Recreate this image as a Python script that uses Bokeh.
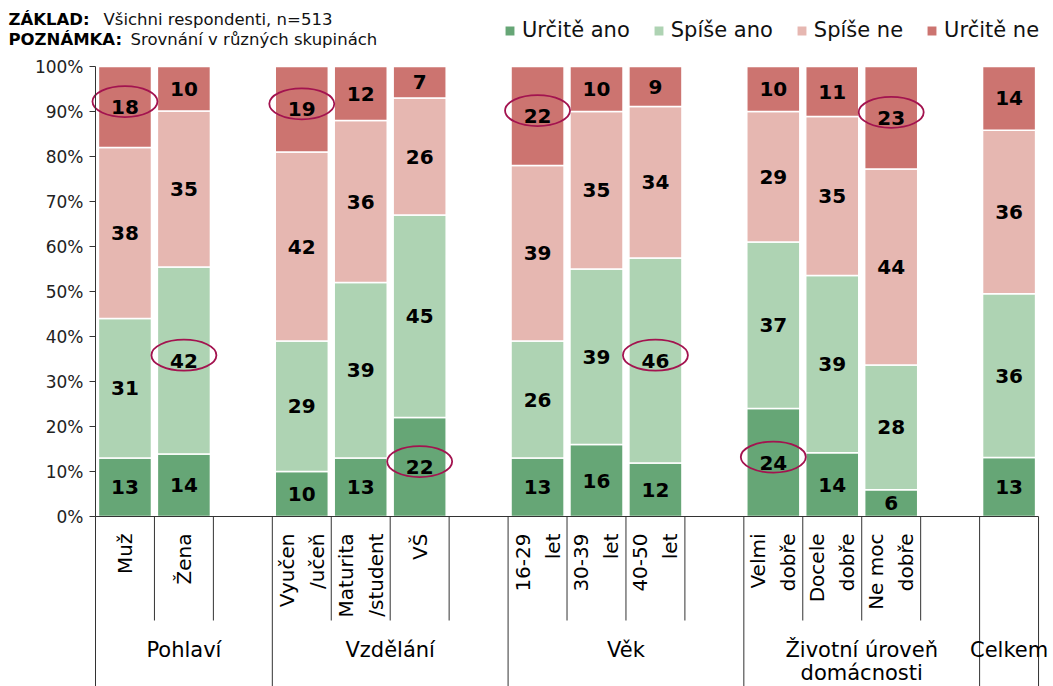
import math
from bokeh.plotting import figure
from bokeh.models import (Range1d, FixedTicker, PrintfTickFormatter, Legend,
                          LegendItem, ColumnDataSource)
from bokeh.core.properties import value
from bokeh.embed import file_html
from bokeh.resources import INLINE

# ---------------- data ----------------
groups = ["Pohlaví", "Vzdělání", "Věk", "Životní úroveň\ndomácnosti", "Celkem"]
group_members = [
    ["Muž", "Žena"],
    ["Vyučen\n/učeň", "Maturita\n/student", "VŠ"],
    ["16-29\nlet", "30-39\nlet", "40-50\nlet"],
    ["Velmi\ndobře", "Docele\ndobře", "Ne moc\ndobře"],
    [""],
]
series = ["Určitě ano", "Spíše ano", "Spíše ne", "Určitě ne"]
urcite_ano = [13, 14, 10, 13, 22, 13, 16, 12, 24, 14, 6, 13]
spise_ano = [31, 42, 29, 39, 45, 26, 39, 46, 37, 39, 28, 36]
spise_ne = [38, 35, 42, 36, 26, 39, 35, 34, 29, 35, 44, 36]
urcite_ne = [18, 10, 19, 12, 7, 22, 10, 9, 10, 11, 23, 14]
# highlighted cells: (bar index, series index)
highlights = [(0, 3), (1, 1), (2, 3), (4, 0), (5, 3), (7, 1), (8, 0), (10, 3)]
yticks = list(range(0, 101, 10))
header_bold = ["ZÁKLAD:", "POZNÁMKA:"]
header_text = ["Všichni respondenti, n=513", "Srovnání v různých skupinách"]

# ---------------- styles ----------------
colors = ["#66A676", "#AED3B3", "#E6B7B1", "#CC7470"]
FONT = value("DejaVu Sans")
AXIS_COL = "#333333"

values = [urcite_ano, spise_ano, spise_ne, urcite_ne]

# slot layout: each group followed by an empty slot (except the last)
xs, cat_labels, short_b, long_b, group_centers = [], [], [], [0], []
slot = 0
for gi, members in enumerate(group_members):
    start = slot
    for m in members:
        xs.append(slot + 0.5)
        cat_labels.append(m)
        slot += 1
    if gi < len(group_members) - 1:
        slot += 1
    end = slot
    short_b.extend(range(start + 1, end))
    long_b.append(end)
    group_centers.append((start + end) / 2)
n_slots = slot

# normalise to 100 %
n_bars = len(xs)
totals = [sum(v[i] for v in values) for i in range(n_bars)]
bottoms, tops = [], []
cum = [0.0] * n_bars
for v in values:
    b = list(cum)
    cum = [cum[i] + v[i] * 100.0 / totals[i] for i in range(n_bars)]
    bottoms.append(b)
    tops.append(list(cum))

# ---------------- figure ----------------
W, H = 1053, 686
X0, Y0 = 95, 516          # pixel position of (0, 0%)
px_per_slot = 58.94
px_per_pct = 4.5
x_start = -X0 / px_per_slot
x_end = (W - X0) / px_per_slot
y_top = Y0 / px_per_pct
y_bot = -(H - Y0) / px_per_pct

def dy(px):  # pixels below the 0 % line -> data units
    return -px / px_per_pct

p = figure(width=W, height=H, output_backend="svg", toolbar_location=None,
           x_range=Range1d(x_start, x_end), y_range=Range1d(y_bot, y_top),
           x_axis_location=None, y_axis_location="left",
           min_border_left=0, min_border_right=0, min_border_top=0,
           min_border_bottom=0)
p.outline_line_color = None
p.xgrid.visible = False
p.ygrid.visible = False
p.background_fill_color = "white"
p.border_fill_color = "white"

ax = p.yaxis[0]
ax.fixed_location = 0
ax.ticker = FixedTicker(ticks=yticks)
ax.bounds = (yticks[0], yticks[-1])
ax.formatter = PrintfTickFormatter(format="%d%%")
ax.major_tick_out = 6
ax.major_tick_in = 0
ax.minor_tick_line_color = None
ax.axis_line_color = AXIS_COL
ax.major_tick_line_color = AXIS_COL
ax.major_label_text_font = "DejaVu Sans"
ax.major_label_text_font_size = "17px"
ax.major_label_text_color = "#222222"
ax.major_label_standoff = 6

# bars
renderers = []
for si, name in enumerate(series):
    mids = [(bottoms[si][i] + tops[si][i]) / 2 for i in range(n_bars)]
    src = ColumnDataSource(dict(x=xs, bottom=bottoms[si], top=tops[si], mid=mids,
                                lab=[str(v) for v in values[si]]))
    r = p.vbar(x="x", bottom="bottom", top="top", width=0.9, source=src,
               fill_color=colors[si], line_color="white", line_width=1.5)
    renderers.append(r)
    p.text(x="x", y="mid", text="lab", source=src, text_align="center",
           text_baseline="middle", text_font=FONT, text_font_size="20px",
           text_font_style="bold", text_color="black")

# baseline and category separators
p.segment(x0=[0], y0=[0], x1=[n_slots], y1=[0], line_color=AXIS_COL, line_width=1)
p.segment(x0=short_b, y0=[0] * len(short_b), x1=short_b, y1=[dy(104)] * len(short_b),
          line_color=AXIS_COL, line_width=1)
p.segment(x0=long_b, y0=[0] * len(long_b), x1=long_b, y1=[y_bot] * len(long_b),
          line_color=AXIS_COL, line_width=1)

# category labels (rotated)
p.text(x=xs, y=[dy(17)] * n_bars, text=cat_labels, angle=math.pi / 2,
       text_align="right", text_baseline="middle", text_font=FONT,
       text_font_size="20px", text_color="black", text_line_height=1.25)

# group labels
p.text(x=group_centers, y=[dy(121)] * len(groups), text=groups,
       text_align="center", text_baseline="top", text_font=FONT,
       text_font_size="21px", text_color="black", text_line_height=0.98)

# highlight ellipses
hx = [xs[b] for b, s in highlights]
hy = [(bottoms[s][b] + tops[s][b]) / 2 + 1.2 for b, s in highlights]
p.ellipse(x=hx, y=hy, width=65 / px_per_slot, height=31 / px_per_pct,
          fill_color=None, line_color="#A3134F", line_width=1.8)

# legend
legend = Legend(items=[LegendItem(label=s, renderers=[r]) for s, r in zip(series, renderers)],
                location=(503, 644), orientation="horizontal", margin=0, padding=0,
                spacing=22, glyph_width=13, glyph_height=13, label_standoff=6,
                label_text_font="DejaVu Sans", label_text_font_size="21px",
                label_text_color="#111111",
                background_fill_alpha=0, border_line_alpha=0)
p.add_layout(legend)

# header notes
hdr_y = [(Y0 - 19) / px_per_pct, (Y0 - 39) / px_per_pct]
hdr_bold_x = (8 - X0) / px_per_slot
hdr_text_x = [(103 - X0) / px_per_slot, (130 - X0) / px_per_slot]
p.text(x=[hdr_bold_x] * 2, y=hdr_y, text=header_bold, text_font=FONT,
       text_font_size="16.5px", text_font_style="bold", text_baseline="middle",
       text_color="black")
p.text(x=hdr_text_x, y=hdr_y, text=header_text, text_font=FONT,
       text_font_size="16.5px", text_baseline="middle", text_color="#111111")

open("out.html", "w").write(file_html(p, INLINE))
